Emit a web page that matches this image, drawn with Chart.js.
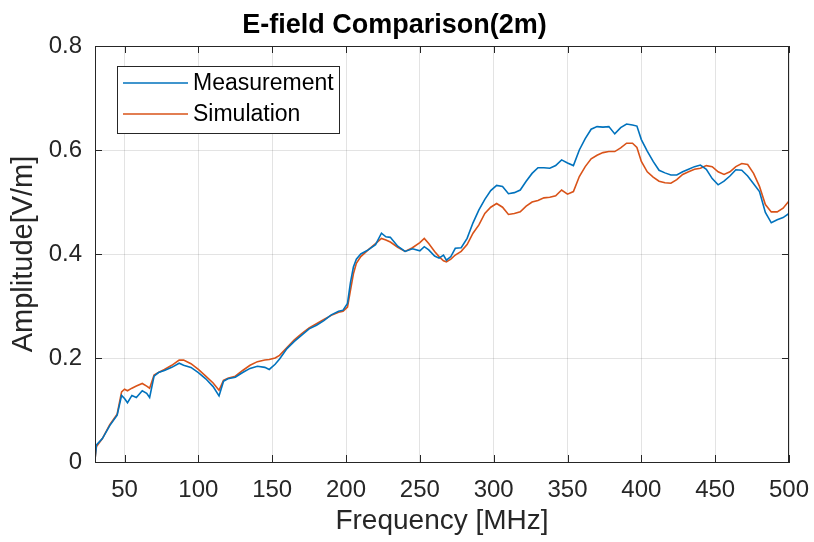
<!DOCTYPE html>
<html>
<head>
<meta charset="utf-8">
<script src="https://cdn.jsdelivr.net/npm/chart.js@4/dist/chart.umd.min.js"></script>
<style>
  html, body { margin: 0; padding: 0; background: #fff; }
  #wrap { width: 814px; height: 542px; }
</style>
</head>
<body>
<div id="wrap"><canvas id="chart" width="814" height="542"></canvas></div>
<script>
'use strict';

// frequency points (MHz)
const freqs = [30, 31, 35, 40, 45, 48, 50, 52, 55, 58, 62, 65, 67, 70, 73, 77, 82, 87, 90, 95,
  100, 105, 110, 114, 117, 120, 125, 130, 135, 140, 145, 148, 152, 155, 160, 165, 170, 175, 180, 185,
  190, 195, 198, 201, 203, 205, 207, 210, 215, 220, 224, 227, 230, 235, 240, 245, 250, 253, 256, 260,
  263, 266, 268, 271, 274, 278, 282, 286, 290, 294, 298, 302, 306, 310, 314, 318, 322, 326, 330, 334,
  338, 342, 346, 350, 354, 358, 362, 366, 370, 374, 378, 382, 386, 390, 394, 397, 400, 404, 408, 412,
  416, 420, 424, 428, 432, 436, 440, 444, 448, 452, 456, 460, 464, 468, 472, 476, 480, 484, 488, 492,
  496, 500]

const measurement = [0.005, 0.033, 0.045, 0.070, 0.090, 0.128, 0.122, 0.114, 0.128, 0.124, 0.137, 0.132, 0.124, 0.165, 0.172, 0.176, 0.182, 0.190, 0.186, 0.182,
  0.172, 0.160, 0.145, 0.127, 0.155, 0.160, 0.163, 0.172, 0.180, 0.184, 0.182, 0.178, 0.188, 0.198, 0.218, 0.232, 0.244, 0.256, 0.263, 0.272,
  0.283, 0.290, 0.292, 0.305, 0.345, 0.375, 0.390, 0.400, 0.408, 0.418, 0.440, 0.433, 0.432, 0.415, 0.405, 0.410, 0.406, 0.414, 0.408, 0.396,
  0.392, 0.398, 0.388, 0.395, 0.411, 0.412, 0.430, 0.460, 0.485, 0.505, 0.522, 0.532, 0.530, 0.516, 0.518, 0.523, 0.540, 0.555, 0.566, 0.566,
  0.565, 0.570, 0.581, 0.575, 0.570, 0.600, 0.622, 0.640, 0.645, 0.644, 0.645, 0.631, 0.643, 0.650, 0.648, 0.646, 0.620, 0.598, 0.578, 0.561,
  0.556, 0.552, 0.552, 0.558, 0.563, 0.568, 0.571, 0.563, 0.545, 0.533, 0.540, 0.550, 0.562, 0.561, 0.550, 0.535, 0.520, 0.480, 0.460, 0.466,
  0.470, 0.478]

const simulation = [0.005, 0.030, 0.045, 0.072, 0.092, 0.135, 0.140, 0.137, 0.142, 0.146, 0.151, 0.146, 0.142, 0.167, 0.172, 0.178, 0.186, 0.196, 0.196, 0.189,
  0.178, 0.165, 0.152, 0.138, 0.157, 0.161, 0.165, 0.176, 0.186, 0.193, 0.196, 0.197, 0.200, 0.205, 0.220, 0.235, 0.247, 0.258, 0.266, 0.274,
  0.282, 0.288, 0.290, 0.298, 0.330, 0.362, 0.382, 0.395, 0.408, 0.420, 0.430, 0.427, 0.423, 0.413, 0.405, 0.412, 0.422, 0.430, 0.420, 0.405,
  0.395, 0.387, 0.385, 0.390, 0.398, 0.405, 0.418, 0.440, 0.456, 0.478, 0.490, 0.497, 0.490, 0.476, 0.478, 0.481, 0.492, 0.500, 0.503, 0.508,
  0.509, 0.512, 0.523, 0.515, 0.520, 0.549, 0.568, 0.583, 0.590, 0.595, 0.597, 0.597, 0.604, 0.613, 0.613, 0.605, 0.578, 0.558, 0.548, 0.540,
  0.537, 0.536, 0.543, 0.553, 0.558, 0.563, 0.565, 0.570, 0.568, 0.558, 0.553, 0.558, 0.568, 0.574, 0.572, 0.555, 0.530, 0.495, 0.481, 0.481,
  0.488, 0.502]

const xTicks = [50, 100, 150, 200, 250, 300, 350, 400, 450, 500]
const yTicks = [0, 0.2, 0.4, 0.6, 0.8]

const axisColor = '#262626'
const fontFamily = '"Liberation Sans", Arial, Helvetica, sans-serif'

// MATLAB style box, inner tick marks and a boxed legend inside the axes
const matlabBox = {
  id: 'matlabBox',
  afterDraw(chart) {
    const ctx = chart.ctx
    const a = chart.chartArea
    const xs = chart.scales.x
    const ys = chart.scales.y
    const tl = 7
    ctx.save()
    ctx.strokeStyle = axisColor
    ctx.lineWidth = 1
    ctx.strokeRect(a.left + 0.5, a.top + 0.5, a.right - a.left - 1, a.bottom - a.top)
    ctx.beginPath()
    xTicks.forEach(v => {
      const px = Math.round(xs.getPixelForValue(v)) + 0.5
      ctx.moveTo(px, a.bottom); ctx.lineTo(px, a.bottom - tl)
      ctx.moveTo(px, a.top); ctx.lineTo(px, a.top + tl)
    })
    yTicks.forEach(v => {
      const py = Math.round(ys.getPixelForValue(v)) + 0.5
      ctx.moveTo(a.left, py); ctx.lineTo(a.left + tl, py)
      ctx.moveTo(a.right, py); ctx.lineTo(a.right - tl, py)
    })
    ctx.stroke()

    // legend
    const lx = 117, ly = 66, lw = 222, lh = 67
    ctx.fillStyle = '#fff'
    ctx.fillRect(lx, ly, lw, lh)
    ctx.strokeStyle = '#262626'
    ctx.strokeRect(lx + 0.5, ly + 0.5, lw, lh)
    ctx.font = '23px ' + fontFamily
    ctx.textBaseline = 'middle'
    chart.data.datasets.forEach((ds, i) => {
      const y = ly + 17 + i * 31
      ctx.strokeStyle = ds.borderColor
      ctx.lineWidth = 1.5
      ctx.beginPath()
      ctx.moveTo(lx + 6, y); ctx.lineTo(lx + 71, y)
      ctx.stroke()
      ctx.fillStyle = '#000'
      ctx.fillText(ds.label, lx + 76, y + 1)
    })
    ctx.restore()
  }
}

function renderChart() {
  const data = {
    datasets: [
      {
        label: 'Measurement',
        data: freqs.map((f, i) => ({ x: f, y: measurement[i] })),
        borderColor: '#0072BD',
        borderWidth: 1.6,
        pointRadius: 0,
        tension: 0,
      },
      {
        label: 'Simulation',
        data: freqs.map((f, i) => ({ x: f, y: simulation[i] })),
        borderColor: '#D95319',
        borderWidth: 1.6,
        pointRadius: 0,
        tension: 0,
      },
    ]
  }

  const config = {
    type: 'line',
    data: data,
    options: {
      responsive: false,
      animation: false,
      layout: { padding: { left: 0, right: 25, top: 0, bottom: 0 } },
      plugins: {
        legend: { display: false },
        tooltip: { enabled: false },
        title: {
          display: true,
          text: 'E-field Comparison(2m)',
          color: '#000',
          font: { family: fontFamily, size: 27, weight: 'bold' },
          padding: { top: 9, bottom: 4.6 },
        },
      },
      scales: {
        x: {
          type: 'linear',
          min: 30,
          max: 500,
          afterBuildTicks: (scale) => { scale.ticks = xTicks.map(v => ({ value: v })) },
          afterFit: (scale) => {
            scale.height = 80
            scale.paddingLeft = 0
            scale.paddingRight = 0
          },
          ticks: {
            color: axisColor,
            font: { family: fontFamily, size: 24 },
            padding: 14,
            maxRotation: 0,
            autoSkip: false,
          },
          grid: { color: 'rgba(38,38,38,0.13)', drawTicks: false },
          border: { display: true, color: axisColor },
          title: {
            display: true,
            text: 'Frequency [MHz]',
            color: axisColor,
            font: { family: fontFamily, size: 28 },
            padding: { top: 0, bottom: 4 },
          },
        },
        y: {
          type: 'linear',
          min: 0,
          max: 0.8,
          afterBuildTicks: (scale) => { scale.ticks = yTicks.map(v => ({ value: v })) },
          afterFit: (scale) => {
            scale.width = 95
            scale.paddingTop = 0
            scale.paddingBottom = 0
          },
          ticks: {
            color: axisColor,
            font: { family: fontFamily, size: 24 },
            padding: 13,
            callback: (v) => String(v),
          },
          grid: { color: 'rgba(38,38,38,0.13)', drawTicks: false },
          border: { display: true, color: axisColor },
          title: {
            display: true,
            text: 'Amplitude[V/m]',
            color: axisColor,
            font: { family: fontFamily, size: 29 },
            padding: { top: 7, bottom: 0 },
          },
        },
      },
    },
    plugins: [matlabBox],
  }

  const productChart = document.getElementById('chart')
  const resultChart = new Chart(productChart, config)
}

renderChart();
</script>
</body>
</html>
